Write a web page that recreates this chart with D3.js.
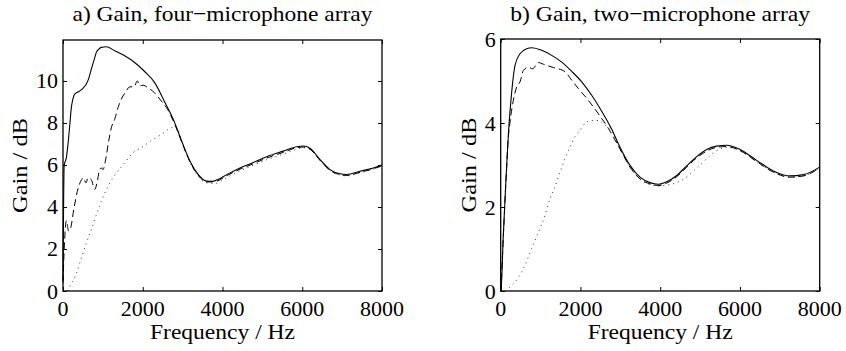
<!DOCTYPE html>
<html>
<head>
<meta charset="utf-8">
<script src="https://cdn.jsdelivr.net/npm/d3@7"></script>
<style>
  body { margin: 0; background: #fff; }
  svg { display: block; font-family: "Liberation Serif", "Times New Roman", serif; }
  .tick-label { font-size: 22px; }
  .title { font-size: 22px; }
  .axis-title { font-size: 22px; }
</style>
</head>
<body>
<svg width="846" height="351"></svg>
<script>
"use strict";

// frequency ticks shared by both panels
const freqTicks = [0, 2000, 4000, 6000, 8000];

// a) four-microphone array
const fourTicks = [0, 2, 4, 6, 8, 10];
const fourSolidF = [0, 30, 84, 125, 170, 209, 250, 293, 400, 500, 585, 650, 710, 780, 836, 900, 961, 1087, 1296, 1547, 1797, 2048, 2299, 2550, 2767, 2976, 3185, 3394, 3604, 3750, 3900, 4105, 4439, 4700, 5109, 5525, 5861, 6027, 6195, 6446, 6697, 6947, 7115, 7449, 7783, 8000];
const fourSolidG = [0.5, 6.0, 6.34, 6.98, 7.9, 8.73, 9.15, 9.37, 9.5, 9.65, 9.85, 10.15, 10.56, 11.0, 11.36, 11.52, 11.6, 11.63, 11.44, 11.2, 10.88, 10.45, 9.92, 9.0, 8.17, 7.14, 6.18, 5.54, 5.23, 5.22, 5.32, 5.54, 5.86, 6.06, 6.39, 6.66, 6.87, 6.9, 6.8, 6.26, 5.78, 5.58, 5.55, 5.7, 5.86, 6.0];
const fourDashF = [0, 40, 84, 142, 192, 276, 360, 443, 510, 577, 627, 710, 794, 861, 919, 961, 1003, 1062, 1145, 1212, 1296, 1380, 1463, 1589, 1672, 1781, 1865, 1923, 2007, 2132, 2299, 2466, 2633, 2800, 2976, 3185, 3394, 3604, 3800, 4105, 4439, 4700, 5109, 5525, 5861, 6027, 6195, 6446, 6697, 6947, 7115, 7449, 7783, 8000];
const fourDashG = [0.4, 2.4, 3.35, 2.85, 3.0, 3.95, 4.75, 5.22, 5.39, 5.15, 5.39, 5.3, 4.83, 5.22, 5.78, 5.86, 5.78, 6.18, 7.13, 7.77, 8.17, 8.73, 9.13, 9.53, 9.72, 9.72, 10.0, 9.76, 9.8, 9.67, 9.43, 9.04, 8.62, 7.95, 7.1, 6.15, 5.5, 5.19, 5.2, 5.49, 5.8, 6.0, 6.33, 6.6, 6.82, 6.85, 6.75, 6.22, 5.74, 5.54, 5.5, 5.65, 5.82, 5.96];
const fourDotF = [120, 167, 335, 460, 585, 710, 836, 961, 1129, 1338, 1547, 1756, 1965, 2216, 2466, 2717, 2850, 2976, 3185, 3394, 3604, 3800, 4105, 4439, 4700, 5109, 5525, 5861, 6027, 6195, 6446, 6697, 6947, 7115, 7449, 7783, 8000];
const fourDotG = [0, 0.2, 0.84, 1.56, 2.28, 2.92, 3.63, 4.27, 4.99, 5.62, 6.1, 6.58, 6.82, 7.17, 7.45, 7.77, 7.8, 7.12, 6.12, 5.45, 5.15, 5.12, 5.4, 5.72, 5.93, 6.25, 6.52, 6.75, 6.82, 6.74, 6.22, 5.74, 5.52, 5.48, 5.63, 5.8, 5.94];

// b) two-microphone array
const twoTicks = [0, 2, 4, 6];
const twoSolidF = [0, 8, 66, 125, 191, 276, 359, 484, 652, 777, 1028, 1279, 1530, 1781, 2032, 2282, 2533, 2784, 2992, 3243, 3494, 3744, 3953, 4163, 4414, 4665, 4915, 5166, 5417, 5668, 6002, 6420, 6837, 7256, 7590, 8000];
const twoSolidG = [0, 0.02, 1.33, 2.52, 3.71, 4.74, 5.37, 5.65, 5.77, 5.79, 5.73, 5.61, 5.45, 5.23, 4.98, 4.66, 4.28, 3.85, 3.42, 2.99, 2.71, 2.58, 2.54, 2.6, 2.75, 2.98, 3.2, 3.37, 3.45, 3.47, 3.37, 3.11, 2.86, 2.74, 2.77, 2.95];
const twoDashF = [0, 66, 125, 191, 233, 317, 401, 484, 568, 693, 800, 944, 1070, 1320, 1446, 1614, 1781, 1948, 2199, 2449, 2700, 2992, 3243, 3494, 3744, 3953, 4163, 4414, 4665, 4915, 5166, 5417, 5668, 6002, 6420, 6837, 7256, 7590, 8000];
const twoDashG = [0, 1.3, 2.5, 3.65, 4.02, 4.54, 4.86, 4.98, 5.25, 5.33, 5.29, 5.44, 5.4, 5.32, 5.29, 5.22, 5.02, 4.82, 4.54, 4.22, 3.87, 3.38, 2.95, 2.67, 2.55, 2.51, 2.57, 2.72, 2.95, 3.17, 3.33, 3.42, 3.44, 3.34, 3.08, 2.83, 2.71, 2.74, 2.93];
const twoDotF = [120, 191, 359, 568, 777, 944, 1112, 1237, 1362, 1488, 1614, 1739, 1864, 1989, 2114, 2282, 2449, 2616, 2784, 2992, 3243, 3494, 3744, 3953, 4163, 4414, 4580, 4998, 5350, 5668, 6002, 6420, 6837, 7256, 7590, 8000];
const twoDotG = [0, 0.06, 0.21, 0.53, 1.01, 1.4, 1.8, 2.2, 2.48, 2.83, 3.15, 3.43, 3.67, 3.83, 3.99, 4.06, 4.06, 3.95, 3.82, 3.38, 2.95, 2.66, 2.53, 2.5, 2.52, 2.58, 2.66, 3.0, 3.3, 3.42, 3.35, 3.08, 2.83, 2.71, 2.74, 2.92];

const svg = d3.select("svg");

function zip(fs, gs) {
    return fs.map((f, i) => [f, gs[i]]);
}

function drawPanel(p) {
    const x = d3.scaleLinear().domain([0, 8000]).range([p.left, p.right]);
    const y = d3.scaleLinear().domain([0, p.ymax]).range([p.bottom, p.top]);
    const g = svg.append("g");

    const line = d3.line()
        .x(d => x(d[0]))
        .y(d => y(d[1]))
        .curve(d3.curveMonotoneX);

    const series = [
        { data: zip(p.dotF, p.dotG), dash: "1,4", width: 1, color: "#333" },
        { data: zip(p.dashF, p.dashG), dash: "7,4", width: 1, color: "#000" },
        { data: zip(p.solidF, p.solidG), dash: null, width: 1.1, color: "#000" }
    ];

    g.selectAll(".series")
        .data(series)
        .enter().append("path")
        .attr("class", "series")
        .attr("d", d => line(d.data))
        .attr("fill", "none")
        .attr("stroke", d => d.color)
        .attr("stroke-width", d => d.width)
        .attr("stroke-dasharray", d => d.dash);

    // ticks on all four sides, pointing inward
    g.append("g")
        .attr("transform", `translate(0,${p.bottom})`)
        .call(d3.axisBottom(x).tickValues(freqTicks).tickSize(-4).tickFormat(""))
        .call(a => a.select(".domain").remove());
    g.append("g")
        .attr("transform", `translate(0,${p.top})`)
        .call(d3.axisTop(x).tickValues(freqTicks).tickSize(-4).tickFormat(""))
        .call(a => a.select(".domain").remove());
    g.append("g")
        .attr("transform", `translate(${p.left},0)`)
        .call(d3.axisLeft(y).tickValues(p.yTicks).tickSize(-4).tickFormat(""))
        .call(a => a.select(".domain").remove());
    g.append("g")
        .attr("transform", `translate(${p.right},0)`)
        .call(d3.axisRight(y).tickValues(p.yTicks).tickSize(-4).tickFormat(""))
        .call(a => a.select(".domain").remove());

    g.append("rect")
        .attr("x", p.left)
        .attr("y", p.top)
        .attr("width", p.right - p.left)
        .attr("height", p.bottom - p.top)
        .attr("fill", "none")
        .attr("stroke", "#000")
        .attr("stroke-width", 1.3);

    g.selectAll(".xlab")
        .data(freqTicks)
        .enter().append("text")
        .attr("class", "tick-label")
        .attr("x", d => x(d))
        .attr("y", p.bottom + 25)
        .attr("text-anchor", "middle")
        .text(d => d);

    g.selectAll(".ylab")
        .data(p.yTicks)
        .enter().append("text")
        .attr("class", "tick-label")
        .attr("x", p.left - 5)
        .attr("y", d => y(d) + 7.5)
        .attr("text-anchor", "end")
        .text(d => d);

    const cx = (p.left + p.right) / 2;
    g.append("text")
        .attr("class", "title")
        .attr("x", cx)
        .attr("y", 21)
        .attr("text-anchor", "middle")
        .attr("textLength", 300)
        .attr("lengthAdjust", "spacingAndGlyphs")
        .text(p.title);

    g.append("text")
        .attr("class", "axis-title")
        .attr("x", cx)
        .attr("y", 339)
        .attr("text-anchor", "middle")
        .attr("textLength", 145)
        .attr("lengthAdjust", "spacingAndGlyphs")
        .text("Frequency / Hz");

    g.append("text")
        .attr("class", "axis-title")
        .attr("transform", `translate(${p.ylabX},${(p.top + p.bottom) / 2}) rotate(-90)`)
        .attr("text-anchor", "middle")
        .attr("textLength", 95)
        .attr("lengthAdjust", "spacingAndGlyphs")
        .text("Gain / dB");
}

drawPanel({
    title: "a) Gain, four\u2212microphone array",
    left: 63, right: 382, top: 40, bottom: 291, ymax: 11.95, ylabX: 27,
    yTicks: fourTicks,
    solidF: fourSolidF, solidG: fourSolidG,
    dashF: fourDashF, dashG: fourDashG,
    dotF: fourDotF, dotG: fourDotG
});

drawPanel({
    title: "b) Gain, two\u2212microphone array",
    left: 500.7, right: 819.7, top: 39, bottom: 291, ymax: 6, ylabX: 476,
    yTicks: twoTicks,
    solidF: twoSolidF, solidG: twoSolidG,
    dashF: twoDashF, dashG: twoDashG,
    dotF: twoDotF, dotG: twoDotG
});
</script>
</body>
</html>
